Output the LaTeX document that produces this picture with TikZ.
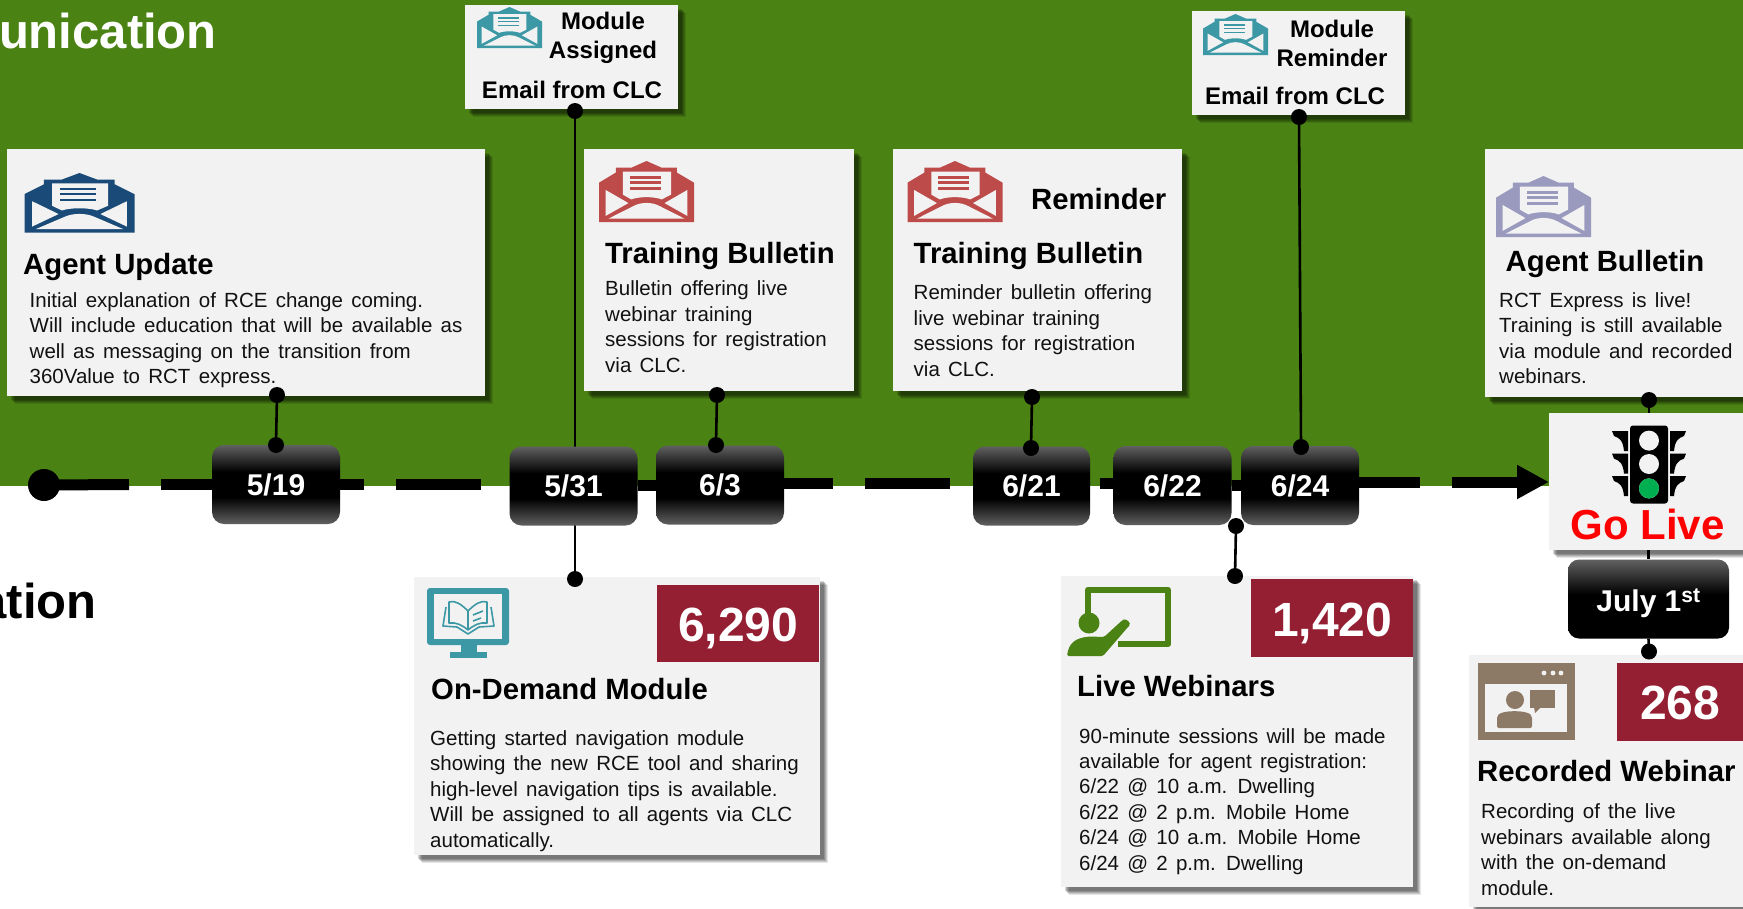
\documentclass[tikz,border=0pt]{standalone}
\usepackage{fontspec}
\setmainfont{Liberation Sans}
\newfontfamily\bodyfam[WordSpace=1.45]{Liberation Sans}
\usetikzlibrary{arrows.meta,shadows}
\pgfdeclarelayer{back}\pgfdeclarelayer{wires}\pgfdeclarelayer{front}
\pgfsetlayers{back,wires,main,front}
\definecolor{bggreen}{HTML}{4A8213}
\definecolor{cardgray}{HTML}{F2F2F2}
\definecolor{statred}{HTML}{941F33}
\definecolor{navyic}{HTML}{1A4B78}
\definecolor{redic}{HTML}{BC4B4A}
\definecolor{tealic}{HTML}{3B98A4}
\definecolor{lavic}{HTML}{9A9ABF}
\definecolor{brownic}{HTML}{8C7A66}
\definecolor{golivered}{HTML}{FF0000}
\definecolor{lightgreen}{HTML}{00B050}
\definecolor{textblack}{HTML}{111111}
\pgfdeclareverticalshading{dategrad}{100bp}{color(0bp)=(black!62!white); color(25bp)=(black!62!white); color(42bp)=(black); color(58bp)=(black); color(75bp)=(black!62!white); color(100bp)=(black!62!white)}
\pgfdeclareverticalshading{julygrad}{100bp}{color(0bp)=(black); color(53bp)=(black); color(75bp)=(black!62!white); color(100bp)=(black!62!white)}
\tikzset{
  card/.style={draw=none,fill=cardgray,inner sep=0pt,anchor=north west,
    drop shadow={shadow xshift=8pt,shadow yshift=-8pt,opacity=.10,fill=black},
    drop shadow={shadow xshift=7pt,shadow yshift=-7pt,opacity=.12,fill=black},
    drop shadow={shadow xshift=6pt,shadow yshift=-6pt,opacity=.14,fill=black},
    drop shadow={shadow xshift=5pt,shadow yshift=-5pt,opacity=.16,fill=black},
    drop shadow={shadow xshift=4pt,shadow yshift=-4pt,opacity=.16,fill=black}},
  datebox/.style={rounded corners=12pt,shading=dategrad,draw=none,inner sep=0pt,text=white,
    minimum height=79pt,font=\bfseries\fontsize{30}{34}\selectfont,text height=21.5pt,text depth=0pt},
  stat/.style={fill=statred,text=white,inner sep=0pt,anchor=north west,
    font=\bfseries\fontsize{48}{52}\selectfont,text height=36pt,text depth=0pt},
  conn/.style={line width=2.6pt,black},
  dotn/.style={circle,fill=black,inner sep=0pt,minimum size=16pt},
  tl/.style={line width=11pt,black},
  titlet/.style={inner sep=0pt,anchor=base west,text=black,font=\bfseries\fontsize{29.3}{34}\selectfont},
  smallt/.style={inner sep=0pt,anchor=base,text=black,font=\bfseries\fontsize{24}{28}\selectfont},
  bodyt/.style={inner sep=0pt,anchor=base west,align=left,text=textblack,
    font=\bodyfam\fontsize{20.5}{25.4}\selectfont},
  heading/.style={inner sep=0pt,anchor=base east,font=\bfseries\fontsize{49}{54}\selectfont},
}
\newcommand{\envicon}[5]{%
\begin{scope}[shift={(#1,#2)},xscale=#3,yscale=#4]
  \fill[#5] (0,.355)--(.177,.19)--(.177,.11)--(.34,.11)--(.5,0)--(.66,.11)--(.82,.11)--(.82,.19)--(1,.355)--(1,1)--(0,1)--cycle;
  \fill[cardgray] (.25,.175)--(.76,.175)--(.76,.55)--(.66,.63) .. controls (.58,.58) and (.42,.58) .. (.34,.63)--(.25,.55)--cycle;
  \fill[#5] (.325,.25) rectangle (.65,.29);
  \fill[#5] (.325,.335) rectangle (.65,.375);
  \fill[#5] (.325,.43) rectangle (.65,.47);
  \fill[cardgray] (.07,.475)--(.07,.90)--(.31,.69)--cycle;
  \fill[cardgray] (.93,.475)--(.93,.90)--(.69,.69)--cycle;
  \fill[cardgray] (.10,.945)--(.36,.74) .. controls (.44,.67) and (.56,.67) .. (.64,.74)--(.90,.945)--cycle;
\end{scope}}
\begin{document}
\begin{tikzpicture}[x=1pt,y=-1pt]
\useasboundingbox (0,0) rectangle (1743,908);
\begin{pgfonlayer}{back}
\fill[white] (0,0) rectangle (1743,908);
\fill[bggreen] (0,0) rectangle (1743,486);
\node[heading,text=white] (hcomm) at (217,48) {unication};
\node[heading,text=black] (hedu) at (97,618) {ation};
\end{pgfonlayer}

% free ends of the timeline dashes
\coordinate (t1e) at (129,484.5);
\coordinate (t2s) at (161,484.5);
\coordinate (t3e) at (364,484);
\coordinate (t4s) at (396,484);
\coordinate (t4e) at (481,484);
\coordinate (t6e) at (833,483.5);
\coordinate (t7s) at (865,483.5);
\coordinate (t7e) at (950,483.5);
\coordinate (t8s) at (1100,483);
\coordinate (t9e) at (1420,482.5);
\coordinate (t10s) at (1452,482);

% cards
\node[card,minimum width=478pt,minimum height=247pt] (agentupdate) at (7,149) {};
\node[card,minimum width=213pt,minimum height=104pt] (modassigned) at (465,5) {};
\node[card,minimum width=270pt,minimum height=242pt] (training) at (584,149) {};
\node[card,minimum width=289pt,minimum height=242pt] (reminder) at (893,149) {};
\node[card,minimum width=213pt,minimum height=104pt] (modreminder) at (1192,11) {};
\node[card,minimum width=258pt,minimum height=248pt] (agentbull) at (1485,149) {};
\node[card,minimum width=406pt,minimum height=278pt] (ondemand) at (414,577) {};
\node[card,minimum width=352pt,minimum height=311pt] (live) at (1061,576) {};
\node[card,minimum width=274pt,minimum height=252pt] (recorded) at (1469,655) {};
\node[card,minimum width=194pt,minimum height=137pt] (golive) at (1549,413) {};

% date boxes
\node[datebox,minimum width=128pt] (b519) at (276,484.5) {5/19};
\node[datebox,minimum width=128pt] (b531) at (573.5,486) {5/31};
\node[datebox,minimum width=128pt] (b63) at (720,485) {6/3};
\node[datebox,minimum width=117pt] (b621) at (1031.5,486) {6/21};
\node[datebox,minimum width=118pt] (b622) at (1172.5,485.5) {6/22};
\node[datebox,minimum width=118pt] (b624) at (1300,485.5) {6/24};
\node[inner sep=0pt,rounded corners=11pt,minimum width=161pt,minimum height=79pt,shading=julygrad,text=white,text height=24.5pt,text depth=0pt,font=\bfseries\fontsize{30}{34}\selectfont] (july) at (1648.5,599) {July 1\textsuperscript{st}};

% dots
\begin{pgfonlayer}{front}
\node[dotn] (d519a) at (277,395) {};
\node[dotn] (d519b) at (276,445) {};
\node[dotn] (d531a) at (575,111) {};
\node[dotn] (d531b) at (575,579) {};
\node[dotn] (d63a) at (717,395) {};
\node[dotn] (d63b) at (716,445) {};
\node[dotn] (d621a) at (1032,397) {};
\node[dotn] (d621b) at (1031,448) {};
\node[dotn] (d622a) at (1236,526) {};
\node[dotn] (d622b) at (1235,576) {};
\node[dotn] (d624a) at (1299,117) {};
\node[dotn] (d624b) at (1301,447) {};
\node[dotn] (dgo) at (1649,400) {};
\node[dotn] (djuly) at (1649,651.5) {};
\end{pgfonlayer}

% timeline and connectors
\begin{pgfonlayer}{wires}
\node[circle,fill=black,inner sep=0pt,minimum size=32pt] (start) at (44,485) {};
\draw[tl] (start.center) -- (t1e);
\draw[tl] (t2s) -- (b519.west |- t2s);
\draw[tl] (b519.east |- t3e) -- (t3e);
\draw[tl] (t4s) -- (t4e);
\draw[tl] (b531.east |- b63.center) -- (b63.west);
\draw[tl] (b63.east |- t6e) -- (t6e);
\draw[tl] (t7s) -- (t7e);
\draw[tl] (t8s) -- (b622.west |- t8s);
\draw[tl] (b622.east |- b624.center) -- (b624.west);
\draw[tl] (b624.east |- t9e) -- (t9e);
\draw[line width=11pt,-{Triangle[length=32pt,width=32pt]}] (t10s) -- (golive.west |- t10s);
\draw[conn] (d531a.center) -- (d531b.center);
\draw[conn] (d624a.center) -- (d624b.center);
\draw[conn] (d622a.center) -- (d622b.center);
\draw[conn] (dgo.center) -- (golive.north -| dgo);
\draw[conn] (golive.south -| july) -- (july.north);
\draw[conn] (july.south) -- (djuly.center);
\end{pgfonlayer}
\begin{pgfonlayer}{front}
\draw[conn] (d519a) -- (d519b);
\draw[conn] (d63a) -- (d63b);
\draw[conn] (d621a) -- (d621b);
\end{pgfonlayer}

% traffic light
\fill[black,rounded corners=3pt] (1630,425.5) rectangle (1668,503.5);
\foreach \ly in {440.6,464,488.4}{\fill[cardgray] (1649,\ly) circle (10);}
\fill[lightgreen] (1649,488.4) circle (10);
\foreach \vy in {431,453.6,476}{
  \fill[black] (1612,\vy) -- (1628,\vy) -- (1628,\vy+20) -- (1624,\vy+20) .. controls (1623,\vy+10) and (1620,\vy+7) .. (1614,\vy+5) -- cycle;
  \fill[black] (1686,\vy) -- (1670,\vy) -- (1670,\vy+20) -- (1674,\vy+20) .. controls (1675,\vy+10) and (1678,\vy+7) .. (1684,\vy+5) -- cycle;
}
\node[inner sep=0pt,anchor=base,text=golivered,font=\bfseries\fontsize{42}{46}\selectfont] (golivetxt) at (1647.5,539) {Go Live};

% envelopes
\envicon{24.5}{173}{110}{59.5}{navyic}
\envicon{477}{7}{65}{41}{tealic}
\envicon{599}{161}{95}{61}{redic}
\envicon{907.5}{161}{95}{61}{redic}
\envicon{1203}{14}{65}{41}{tealic}
\envicon{1496}{176}{95}{61}{lavic}

% card texts
\node[titlet] (t1) at (23,274) {Agent Update};
\node[bodyt] (x1) at (29.5,383.5) {Initial explanation of RCE change coming.\\Will include education that will be available as\\well as messaging on the transition from\\360Value to RCT express.};
\node[smallt] (ma1) at (603,29) {Module};
\node[smallt] (ma2) at (603,58) {Assigned};
\node[smallt] (ma3) at (572,98) {Email from CLC};
\node[titlet] (t2) at (605,263.5) {Training Bulletin};
\node[bodyt] (x2) at (605,372) {Bulletin offering live\\webinar training\\sessions for registration\\via CLC.};
\node[titlet] (rm) at (1031,209.5) {Reminder};
\node[titlet] (t3) at (913.5,263.5) {Training Bulletin};
\node[bodyt] (x3) at (913.5,376) {Reminder bulletin offering\\live webinar training\\sessions for registration\\via CLC.};
\node[smallt] (mr1) at (1332,37) {Module};
\node[smallt] (mr2) at (1332,66) {Reminder};
\node[smallt] (mr3) at (1295,104) {Email from CLC};
\node[titlet] (t4) at (1505.5,271) {Agent Bulletin};
\node[bodyt] (x4) at (1499,383.5) {RCT Express is live!\\Training is still available\\via module and recorded\\webinars.};

% on-demand
\node[stat,minimum width=162pt,minimum height=77pt] (s1) at (657,585) {6,290};
\fill[tealic,rounded corners=3pt] (427,588) rectangle (509,645);
\fill[cardgray] (433.5,594) rectangle (502,639);
\fill[tealic] (461,645) rectangle (477,653);
\fill[tealic] (450,652) rectangle (487,658);
\begin{scope}[draw=tealic,line width=1.6pt,line join=round]
\draw (468,611) .. controls (461,604) and (455,600) .. (449,602) -- (449,623) .. controls (456,622) and (462,625) .. (468,630) .. controls (474,625) and (480,622) .. (487,623) -- (487,602) .. controls (481,600) and (475,604) .. (468,611) -- (468,630);
\draw (446,607) -- (443,626) -- (457,627) -- (468,634) -- (479,627) -- (494,626) -- (491,607);
\draw (473,615) -- (483,611);
\draw (473,621) -- (481,618);
\end{scope}
\node[titlet] (t5) at (431,699) {On-Demand Module};
\node[bodyt] (x5) at (430,847) {Getting started navigation module\\showing the new RCE tool and sharing\\high-level navigation tips is available.\\Will be assigned to all agents via CLC\\automatically.};

% live webinars
\node[stat,minimum width=162pt,minimum height=78pt] (s2) at (1251,579) {1,420};
\draw[bggreen,line width=6.5pt,line join=round] (1088,615) -- (1088,590) -- (1168,590) -- (1168,644) -- (1118,644);
\fill[bggreen] (1089,623) circle (10.5);
\fill[bggreen,rounded corners=1.5pt] (1067,656) .. controls (1069,643) and (1075,638) .. (1090,636.5) -- (1104,637) -- (1122,620.5) .. controls (1126,618) and (1132,623) .. (1128,627) -- (1103,656) -- cycle;
\node[titlet] (t6) at (1077,696) {Live Webinars};
\node[bodyt] (x6) at (1079,870) {90-minute sessions will be made\\available for agent registration:\\6/22 @ 10 a.m. Dwelling\\6/22 @ 2 p.m. Mobile Home\\6/24 @ 10 a.m. Mobile Home\\6/24 @ 2 p.m. Dwelling};

% recorded
\node[stat,minimum width=126pt,minimum height=77.6pt,text height=34pt] (s3) at (1617,663) {268};
\fill[brownic] (1478,663) rectangle (1575,740);
\fill[cardgray] (1485,684) rectangle (1567,732);
\foreach \bx in {1544,1553,1561}{\fill[cardgray] (\bx,673) circle (2.4);}
\fill[brownic] (1515,700) circle (9);
\fill[brownic,rounded corners=2pt] (1497,728) -- (1497,716) .. controls (1503,710) and (1526,710) .. (1532,716) -- (1532,728) -- cycle;
\fill[brownic] (1530,690) rectangle (1555,708);
\fill[brownic] (1534,707) -- (1535,713) -- (1541,707) -- cycle;
\node[titlet] (t7) at (1477,781.5) {Recorded Webinar};
\node[bodyt] (x7) at (1481,895) {Recording of the live\\webinars available along\\with the on-demand\\module.};
\end{tikzpicture}
\end{document}
